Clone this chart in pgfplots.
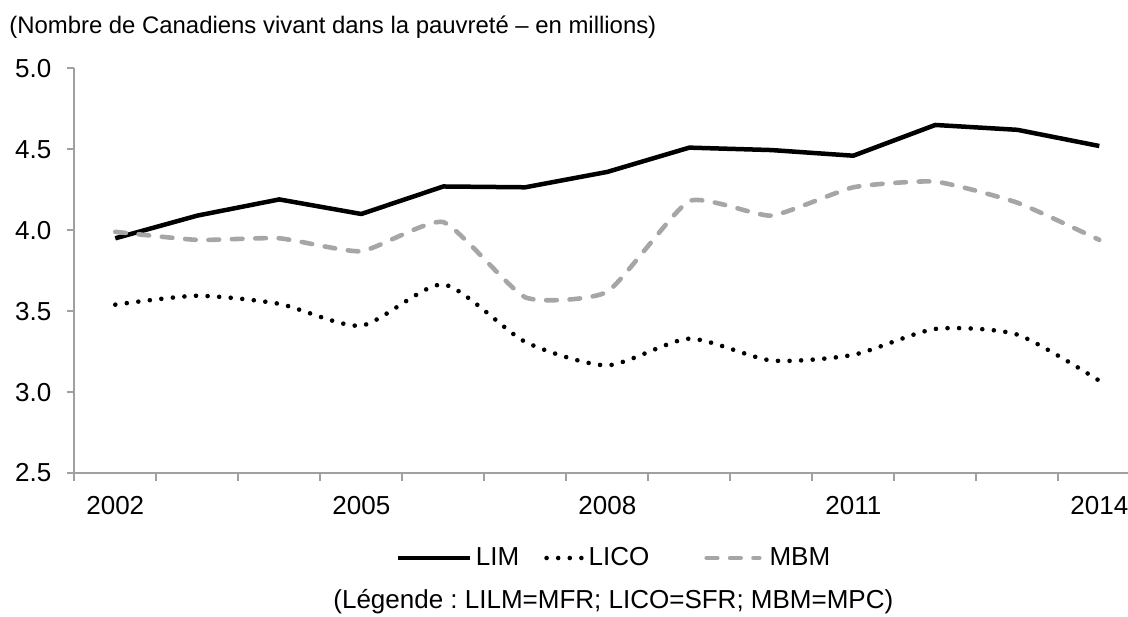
\documentclass[border=0pt]{standalone}
\usepackage{pgfplots}
\pgfplotsset{compat=1.18}
\usepackage{fontspec}
\setmainfont{Liberation Sans}
\frenchspacing
\definecolor{axgray}{HTML}{A0A0A0}
\definecolor{mbmgray}{HTML}{A6A6A6}
\newcommand{\chartfont}{\fontsize{13pt}{15pt}\selectfont\frenchspacing}
\newcommand{\titlefont}{\fontsize{11.95pt}{14pt}\selectfont\frenchspacing}
\pgfplotsset{
  leglim/.style={legend image code/.code={\draw[##1] (0pt,0pt) -- (36pt,0pt);}},
  leglico/.style={legend image code/.code={\draw[##1] (0pt,0pt) -- (18.4pt,0pt);}},
  legmbm/.style={legend image code/.code={\draw[##1] (0pt,0pt) -- (26.3pt,0pt);}},
}
\begin{document}
\begin{tikzpicture}
\begin{axis}[
  at={(0,0)}, anchor=south west,
  scale only axis, width=526.85pt, height=202.35pt,
  xmin=-0.5, xmax=12.35, ymin=2.5, ymax=5.0,
  axis lines=left,
  axis line style={-, draw=axgray, line width=1pt},
  tick align=outside,
  major tick length=3.8pt, minor tick length=3.8pt,
  tick style={draw=axgray, line width=1pt},
  xtick={0,3,6,9,12},
  xticklabels={2002,2005,2008,2011,2014},
  major x tick style={draw=none},
  minor xtick={-0.5,0.5,1.5,2.5,3.5,4.5,5.5,6.5,7.5,8.5,9.5,10.5,11.5},
  ytick={2.5,3,3.5,4,4.5,5},
  yticklabel style={/pgf/number format/fixed, /pgf/number format/fixed zerofill, /pgf/number format/precision=1,
    inner sep=0pt, xshift=-7.5pt},
  xticklabel style={inner sep=0pt, yshift=-7.55pt},
  /pgf/number format/assume math mode=true,
  tick label style={font=\chartfont},
  clip=false,
  legend columns=3,
  legend style={at={(axis description cs:0.3044,-0.210)}, anchor=west, draw=none, font=\chartfont,
    inner sep=0pt, /tikz/every even column/.append style={column sep=0pt},
    /tikz/every odd column/.append style={column sep=0pt},
    nodes={inner sep=0pt}},
  legend cell align=left,
]
\addplot[black, line width=2.25pt, line join=round, leglim]
  coordinates {(0,3.95) (1,4.09) (2,4.19) (3,4.10) (4,4.27) (5,4.265) (6,4.36) (7,4.51) (8,4.495) (9,4.46) (10,4.65) (11,4.62) (12,4.52)};
\addlegendentry{\kern2pt LIM\kern12.5pt}
\addplot[black, line width=2.3pt, line cap=round, dash pattern=on 0pt off 5.8pt, smooth, tension=0.4, leglico]
  coordinates {(0,3.54) (1,3.595) (2,3.545) (3,3.41) (4,3.665) (5,3.31) (6,3.165) (7,3.33) (8,3.195) (9,3.23) (10,3.39) (11,3.355) (12,3.07)};
\addlegendentry{\kern1.5pt LICO\kern27.5pt}
\addplot[mbmgray, line width=2.3pt, line cap=round, dash pattern=on 5.3pt off 6.4pt, smooth, tension=0.3, legmbm]
  coordinates {(0,3.99) (1,3.94) (2,3.95) (3,3.87) (4,4.05) (5,3.585) (6,3.62) (7,4.18) (8,4.09) (9,4.265) (10,4.30) (11,4.17) (12,3.94)};
\addlegendentry{\kern4pt MBM}
\node[anchor=base west, font=\titlefont, inner sep=0pt] at (axis description cs:-0.062,1.0872)
  {(Nombre de Canadiens vivant dans la pauvreté – en millions)};
\node[anchor=base west, font=\chartfont, inner sep=0pt] at (axis description cs:0.2455,-0.336)
  {(Légende : LILM=MFR; LICO=SFR; MBM=MPC)};
\end{axis}
\pgfresetboundingbox
\path (-37.15pt,-71.5pt) rectangle (526.85pt,236.5pt);
\end{tikzpicture}
\end{document}
